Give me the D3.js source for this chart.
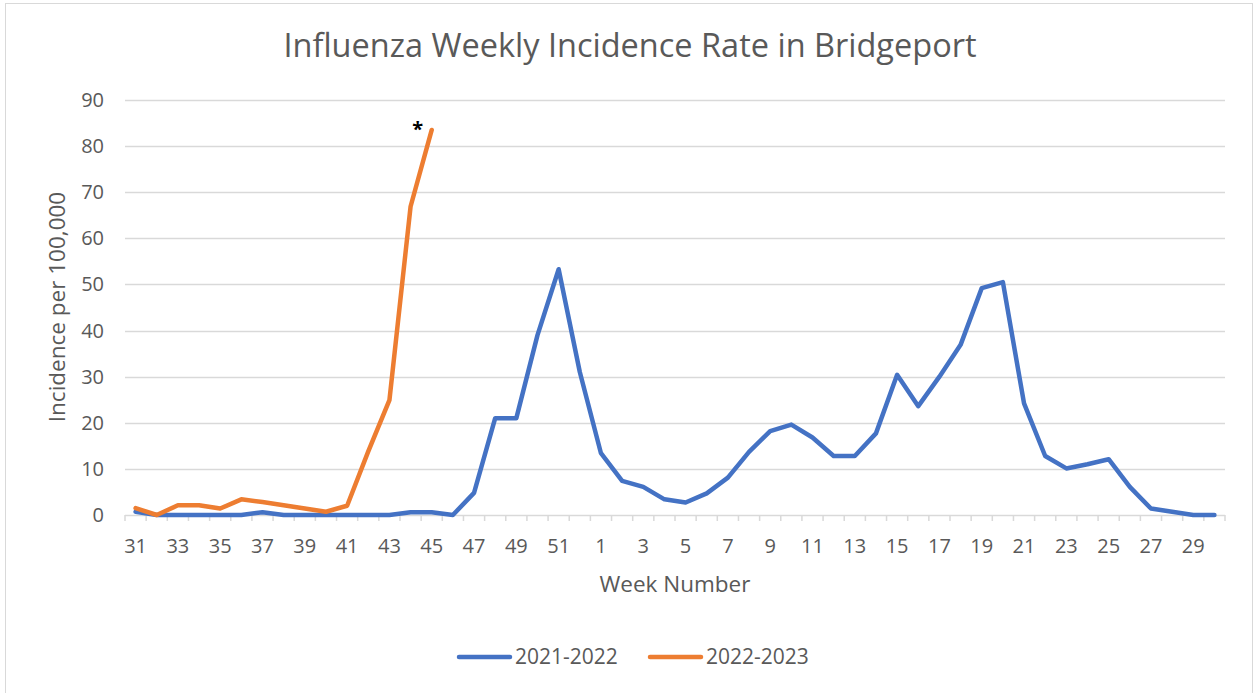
<!DOCTYPE html>
<html>
<head>
<meta charset="utf-8">
<script src="https://cdn.jsdelivr.net/npm/d3@7"></script>
<style>
  body { margin: 0; background: #fff; }
  text { font-family: "Open Sans", sans-serif; fill: #595959; }
</style>
</head>
<body>
<div id="chart"></div>
<script>
// week numbers on the x axis (season runs from week 31 to week 30)
const weeks = [
  31, 32, 33, 34, 35, 36, 37, 38, 39, 40, 41, 42, 43, 44, 45, 46, 47, 48, 49, 50, 51, 52,
  1, 2, 3, 4, 5, 6, 7, 8, 9, 10, 11, 12, 13, 14, 15, 16, 17, 18, 19, 20, 21, 22, 23, 24,
  25, 26, 27, 28, 29, 30,
];

// 2021-2022 season, one value per week
const season2122 = [
  0.7, 0, 0, 0, 0, 0, 0.6, 0, 0, 0, 0, 0, 0, 0.6, 0.6, 0, 4.8, 21.0, 21.0, 39.0, 53.3, 31.0,
  13.4, 7.4, 6.1, 3.4, 2.7, 4.7, 8.1, 13.7, 18.2, 19.6, 16.8, 12.8, 12.8, 17.7, 30.4, 23.6,
  30.0, 36.9, 49.2, 50.5, 24.2, 12.8, 10.1, 11.0, 12.1, 6.1, 1.4, 0.7, 0, 0,
];

// 2022-2023 season, only up to week 45 so far
const season2223 = [
  1.5, 0, 2.1, 2.1, 1.4, 3.4, 2.8, 2.1, 1.4, 0.7, 2.0, 13.8, 24.9, 66.9, 83.5,
];

const seriesNames = ["2021-2022", "2022-2023"];
const seriesColors = ["#4472C4", "#ED7D31"];
const yTicks = [0, 10, 20, 30, 40, 50, 60, 70, 80, 90];

const W = 1254, H = 693;
const margin = { top: 100, right: 29, bottom: 178, left: 125 };
const width = W - margin.left - margin.right,
  height = H - margin.top - margin.bottom;

const svg = d3
  .select("#chart")
  .append("svg")
  .attr("width", W)
  .attr("height", H);

// chart area border
svg
  .append("rect")
  .attr("x", 5.5)
  .attr("y", 3.5)
  .attr("width", 1247)
  .attr("height", 700)
  .attr("fill", "none")
  .attr("stroke", "#d9d9d9");

const g = svg
  .append("g")
  .attr("transform", `translate(${margin.left}, ${margin.top})`);

const x = d3
  .scaleBand()
  .domain(weeks.map((d, i) => i))
  .range([0, width]);

const y = d3.scaleLinear().domain([0, 90]).range([height, 0]);

// horizontal gridlines
g.append("g")
  .selectAll("line")
  .data(yTicks)
  .join("line")
  .attr("x1", 0)
  .attr("x2", width)
  .attr("y1", (d) => Math.round(y(d)) + 0.5)
  .attr("y2", (d) => Math.round(y(d)) + 0.5)
  .attr("stroke", "#d9d9d9")
  .attr("stroke-width", 1.5);

// y axis labels
g.append("g")
  .selectAll("text")
  .data(yTicks)
  .join("text")
  .attr("x", -21)
  .attr("y", (d) => y(d))
  .attr("dy", "0.35em")
  .attr("text-anchor", "end")
  .style("font-size", "20px")
  .text((d) => d);

// tick marks at category boundaries
const bounds = d3.range(weeks.length + 1).map((i) => i * x.step());
g.append("g")
  .selectAll("line")
  .data(bounds)
  .join("line")
  .attr("x1", (d) => d)
  .attr("x2", (d) => d)
  .attr("y1", height)
  .attr("y2", height + 6)
  .attr("stroke", "#d9d9d9")
  .attr("stroke-width", 1.5);

// x labels, every other week
g.append("g")
  .selectAll("text")
  .data(weeks.map((w, i) => ({ w, i })).filter((d) => d.i % 2 === 0))
  .join("text")
  .attr("x", (d) => x(d.i) + x.bandwidth() / 2)
  .attr("y", height + 38)
  .attr("text-anchor", "middle")
  .style("font-size", "20px")
  .text((d) => d.w);

const line = d3
  .line()
  .x((d, i) => x(i) + x.bandwidth() / 2)
  .y((d) => y(d));

[season2122, season2223].forEach((s, k) => {
  g.append("path")
    .datum(s)
    .attr("fill", "none")
    .attr("stroke", seriesColors[k])
    .attr("stroke-width", 4.5)
    .attr("stroke-linejoin", "round")
    .attr("stroke-linecap", "round")
    .attr("d", line);
});

// asterisk over the last reported week
const lastIdx = season2223.length - 1;
g.append("text")
  .attr("x", x(lastIdx) + x.bandwidth() / 2 - 14)
  .attr("y", y(season2223[lastIdx]) + 6)
  .attr("text-anchor", "middle")
  .style("font-size", "20px")
  .style("font-weight", "bold")
  .style("fill", "#000")
  .text("*");

// title
svg
  .append("text")
  .attr("x", 630)
  .attr("y", 57)
  .attr("text-anchor", "middle")
  .style("font-size", "32.5px")
  .text("Influenza Weekly Incidence Rate in Bridgeport");

// axis titles
svg
  .append("text")
  .attr("x", 675)
  .attr("y", 592)
  .attr("text-anchor", "middle")
  .style("font-size", "22.5px")
  .text("Week Number");

svg
  .append("text")
  .attr("transform", "translate(65, 307) rotate(-90)")
  .attr("text-anchor", "middle")
  .style("font-size", "22.5px")
  .text("Incidence per 100,000");

// legend
const legendX = [457, 648];
const legend = svg
  .append("g")
  .selectAll("g")
  .data(seriesNames)
  .join("g")
  .attr("transform", (d, i) => `translate(${legendX[i]}, 657)`);

legend
  .append("line")
  .attr("x1", 2)
  .attr("x2", 53)
  .attr("stroke", (d, i) => seriesColors[i])
  .attr("stroke-width", 4.5)
  .attr("stroke-linecap", "round");

legend
  .append("text")
  .attr("x", 58)
  .attr("dy", "0.35em")
  .style("font-size", "21px")
  .text((d) => d);
</script>
</body>
</html>
